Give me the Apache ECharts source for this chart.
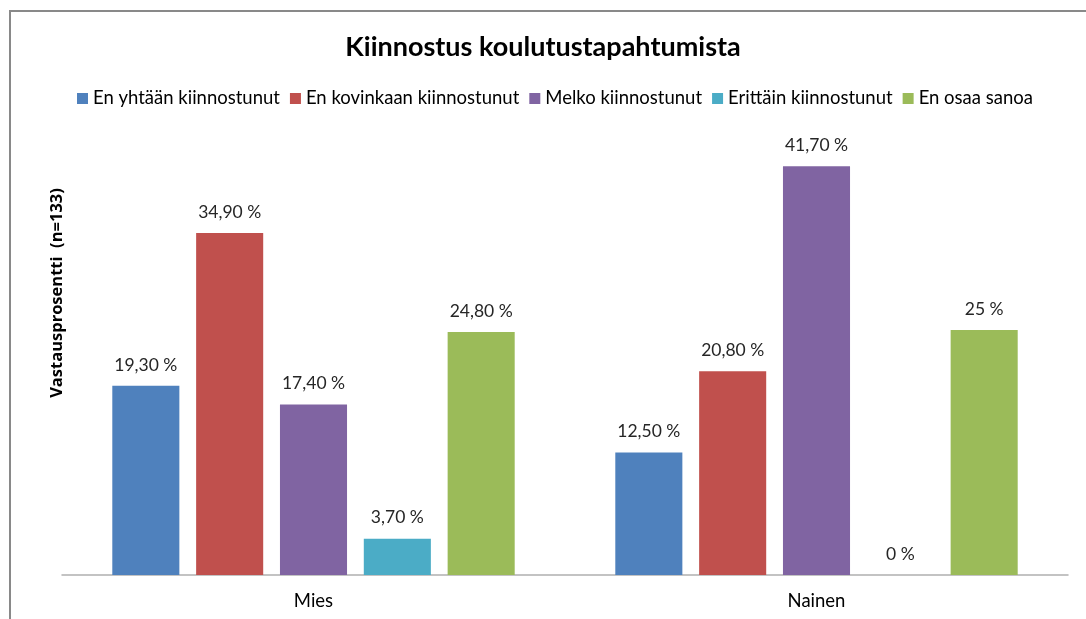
<!DOCTYPE html>
<html>
<head>
<meta charset="utf-8">
<script src="https://cdn.jsdelivr.net/npm/echarts@6/dist/echarts.min.js"></script>
<style>
  html, body { margin: 0; padding: 0; background: #fff; }
  #chart { width: 1086px; height: 619px; }
</style>
</head>
<body>
<div id="chart"></div>
<script>
// data
const categories = ['Mies', 'Nainen'];
const seriesNames = ['En yhtään kiinnostunut', 'En kovinkaan kiinnostunut', 'Melko kiinnostunut', 'Erittäin kiinnostunut', 'En osaa sanoa'];
const enYhtaan = [19.3, 12.5];
const enKovinkaan = [34.9, 20.8];
const melko = [17.4, 41.7];
const erittain = [3.7, 0];
const enOsaa = [24.8, 25];
const colors = ['#4f81bd', '#c0504d', '#8064a2', '#4bacc6', '#9bbb59'];

const allValues = [enYhtaan, enKovinkaan, melko, erittain, enOsaa];

function fmt(v) {
  // 19.3 -> "19,30 %", 25 -> "25 %"
  if (Number.isInteger(v)) return v + ' %';
  return v.toFixed(2).replace('.', ',') + ' %';
}

const chart = echarts.init(document.getElementById('chart'));
const font = 'Lato, "Open Sans", sans-serif';

const option = {
  animation: false,
  title: {
    text: 'Kiinnostus koulutustapahtumista',
    left: 'center',
    top: 29,
    textStyle: { fontFamily: font, fontSize: 27, fontWeight: 'bold', color: '#000' }
  },
  legend: {
    data: seriesNames,
    left: 72,
    top: 84,
    itemWidth: 11,
    itemHeight: 11,
    itemGap: 10,
    icon: 'rect',
    textStyle: { fontFamily: font, fontSize: 18.5, color: '#000' }
  },
  grid: {
    left: 62,
    right: 18,
    top: 134,
    bottom: 44,
    containLabel: false
  },
  xAxis: {
    type: 'category',
    data: categories,
    axisTick: { show: false },
    axisLine: { lineStyle: { color: '#b0b0b0', width: 1.5 } },
    axisLabel: { fontFamily: font, fontSize: 18.5, color: '#000', margin: 17 }
  },
  yAxis: {
    type: 'value',
    min: 0,
    max: 45,
    axisLine: { show: false },
    axisTick: { show: false },
    axisLabel: { show: false },
    splitLine: { show: false }
  },
  graphic: [{
    type: 'rect',
    shape: { x: 10, y: 11, width: 1200, height: 800 },
    style: { fill: 'none', stroke: '#898989', lineWidth: 2 },
    silent: true
  }, {
    type: 'text',
    x: 57,
    y: 293,
    rotation: Math.PI / 2,
    style: {
      text: 'Vastausprosentti  (n=133)',
      fontFamily: '"Open Sans", sans-serif',
      fontSize: 16.5,
      fontWeight: 'bold',
      fill: '#000',
      align: 'center',
      verticalAlign: 'middle'
    },
    silent: true
  }],
  series: seriesNames.map((name, i) => ({
    name: name,
    type: 'bar',
    data: allValues[i],
    barCategoryGap: '20%',
    barGap: '25%',
    itemStyle: { color: colors[i] },
    label: {
      show: true,
      position: 'top',
      distance: 12,
      fontFamily: font,
      fontSize: 17.5,
      color: '#262626',
      formatter: p => fmt(p.value)
    }
  }))
};

chart.setOption(option);
</script>
</body>
</html>
